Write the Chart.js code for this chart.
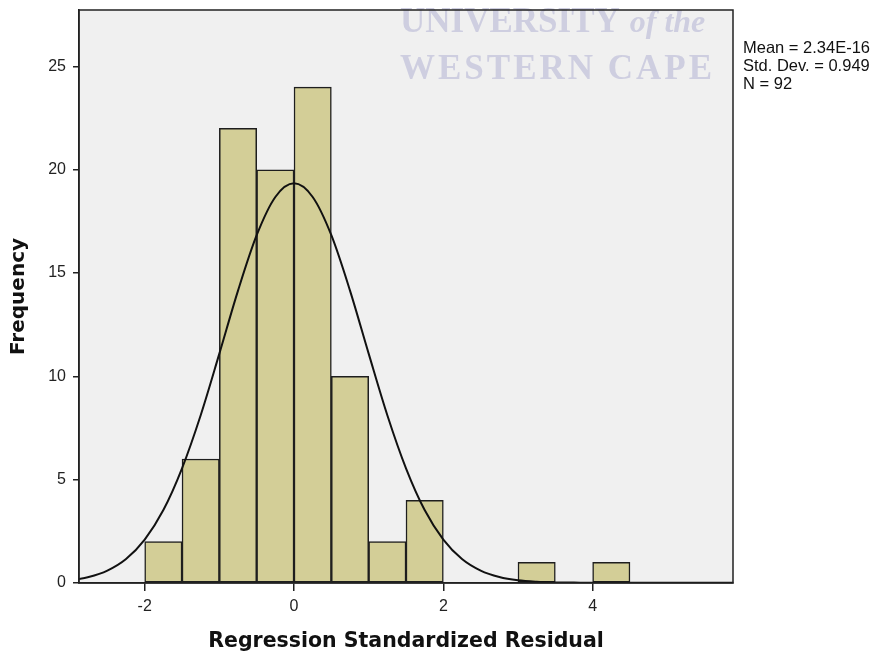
<!DOCTYPE html>
<html>
<head>
<meta charset="utf-8">
<script src="https://cdn.jsdelivr.net/npm/chart.js@4"></script>
<style>
  html, body { margin: 0; padding: 0; background: #ffffff; }
  canvas { display: block; }
</style>
</head>
<body>
<canvas id="c" width="879" height="656"></canvas>
<script>
// ---- data ----
const binCenters  = [-1.75, -1.25, -0.75, -0.25, 0.25, 0.75, 1.25, 1.75, 3.25, 4.25];
const frequencies = [2, 6, 22, 20, 24, 10, 2, 4, 1, 1];
const curveX = [-3, -2.75, -2.5, -2.25, -2, -1.75, -1.5, -1.25, -1, -0.75, -0.5, -0.25, 0,
                0.25, 0.5, 0.75, 1, 1.25, 1.5, 1.75, 2, 2.25, 2.5, 2.75, 3, 3.25, 3.5, 3.75, 4, 5, 6];
const curveY = [0.13, 0.29, 0.60, 1.16, 2.10, 3.53, 5.55, 8.12, 11.10, 14.15, 16.83, 18.68, 19.34,
                18.68, 16.83, 14.15, 11.10, 8.12, 5.55, 3.53, 2.10, 1.16, 0.60, 0.29, 0.13, 0.06, 0.03, 0.02, 0.01, 0.01, 0.01];
const xTicks = [-2, 0, 2, 4];
const yTicks = [0, 5, 10, 15, 20, 25];
const statsLines = ['Mean = 2.34E-16', 'Std. Dev. = 0.949', 'N = 92'];
const xTitle = 'Regression Standardized Residual';
const yTitle = 'Frequency';
const watermark1 = 'UNIVERSITY';
const watermark1b = 'of the';
const watermark2 = 'WESTERN CAPE';

const barPoints = binCenters.map((x, i) => ({ x: x, y: frequencies[i] }));
const curvePoints = curveX.map((x, i) => ({ x: x, y: curveY[i] }));

const decor = {
  id: 'decor',
  beforeDraw(chart) {
    const { ctx, chartArea: a } = chart;
    ctx.save();
    ctx.fillStyle = '#f0f0f0';
    ctx.fillRect(a.left, a.top, a.right - a.left, a.bottom - a.top);
    ctx.restore();
  },
  afterDatasetsDraw(chart) {
    const { ctx, chartArea: a } = chart;
    ctx.save();
    // watermark
    ctx.fillStyle = 'rgb(206,206,224)';
    ctx.textBaseline = 'alphabetic';
    ctx.textAlign = 'left';
    ctx.font = 'bold 35px "Liberation Serif"';
    ctx.fillText(watermark1, 400, 32);
    const w1 = ctx.measureText(watermark1).width;
    ctx.font = 'italic bold 32px "Liberation Serif"';
    ctx.fillText(watermark1b, 400 + w1 + 10, 32);
    ctx.font = 'bold 35px "Liberation Serif"';
    try { ctx.letterSpacing = '3px'; } catch (e) {}
    ctx.fillText(watermark2, 400, 79);
    try { ctx.letterSpacing = '0px'; } catch (e) {}
    // frame
    ctx.strokeStyle = '#222222';
    ctx.lineWidth = 1.5;
    ctx.strokeRect(a.left, a.top, a.right - a.left, a.bottom - a.top);
    ctx.restore();
  },
  afterDraw(chart) {
    const { ctx } = chart;
    ctx.save();
    ctx.fillStyle = '#111111';
    ctx.font = '16.5px "Liberation Sans"';
    ctx.textAlign = 'left';
    ctx.textBaseline = 'alphabetic';
    statsLines.forEach((t, i) => ctx.fillText(t, 743, 53 + i * 17.8));
    ctx.restore();
  }
};

new Chart(document.getElementById('c'), {
  type: 'bar',
  data: {
    datasets: [
      {
        type: 'line',
        data: curvePoints,
        borderColor: '#111111',
        borderWidth: 2,
        pointRadius: 0,
        fill: false,
        cubicInterpolationMode: 'monotone',
        order: 0
      },
      {
        type: 'bar',
        data: barPoints,
        backgroundColor: '#d3ce97',
        borderColor: '#1e1e1e',
        borderWidth: 1.5,
        borderSkipped: false,
        barPercentage: 1,
        categoryPercentage: 1,
        order: 1
      }
    ]
  },
  options: {
    responsive: false,
    animation: false,
    layout: { padding: { top: 10, right: 146, bottom: 0, left: 0 } },
    plugins: { legend: { display: false }, tooltip: { enabled: false } },
    scales: {
      x: {
        type: 'linear',
        min: -2.88,
        max: 5.88,
        offset: false,
        afterBuildTicks: (s) => { s.ticks = xTicks.map(v => ({ value: v })); },
        afterFit: (s) => { s.height = 73; s.paddingLeft = 0; s.paddingRight = 0; },
        grid: { display: true, drawOnChartArea: false, drawTicks: true, tickLength: 8, color: '#222222', lineWidth: 1.5, offset: false },
        border: { display: true, color: '#222222', width: 1.5 },
        ticks: { color: '#222222', font: { family: 'Liberation Sans', size: 16 }, padding: 6, maxRotation: 0 },
        title: { display: true, text: xTitle, color: '#111111', font: { family: 'DejaVu Sans', weight: 'bold', size: 20.5 }, padding: { top: 0, bottom: 2 } }
      },
      y: {
        type: 'linear',
        min: 0,
        max: 27.73,
        afterBuildTicks: (s) => { s.ticks = yTicks.map(v => ({ value: v })); },
        afterFit: (s) => { s.width = 79; s.paddingTop = 0; s.paddingBottom = 0; },
        grid: { display: true, drawOnChartArea: false, drawTicks: true, tickLength: 6, color: '#222222', lineWidth: 1.5 },
        border: { display: true, color: '#222222', width: 1.5 },
        ticks: { color: '#222222', font: { family: 'Liberation Sans', size: 16 }, padding: 7 },
        title: { display: true, text: yTitle, color: '#111111', font: { family: 'DejaVu Sans', weight: 'bold', size: 20 }, padding: { top: 7, bottom: 0 } }
      }
    }
  },
  plugins: [decor]
});
</script>
</body>
</html>
